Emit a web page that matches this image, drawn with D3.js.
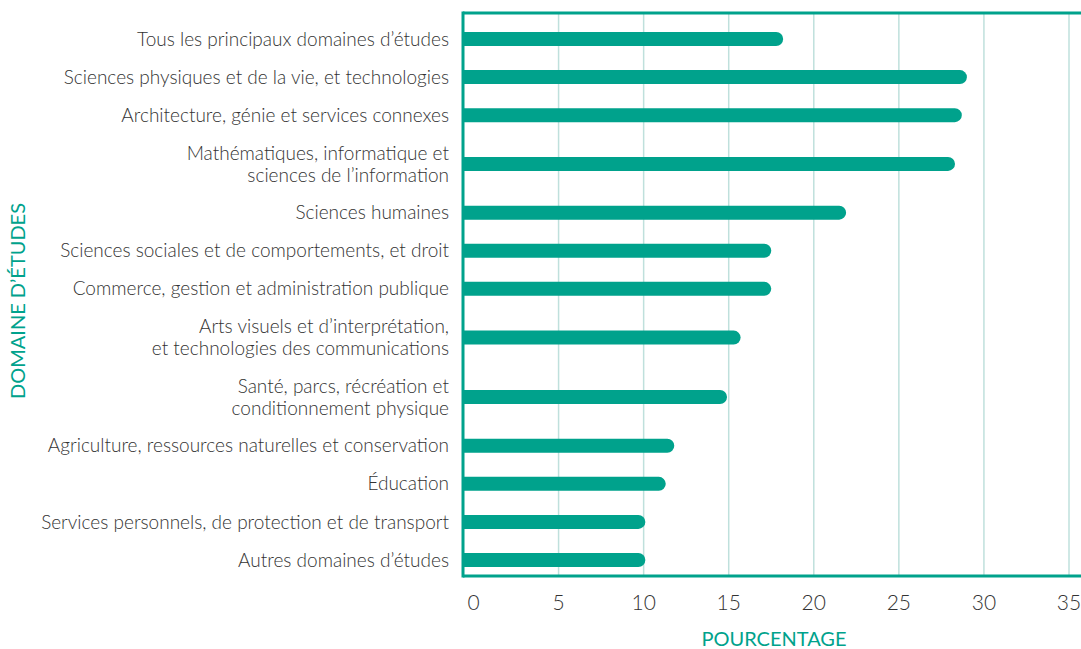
<!DOCTYPE html>
<html>
<head>
<meta charset="utf-8">
<script src="https://cdn.jsdelivr.net/npm/d3@7"></script>
<style>
  body { margin: 0; background: #fff; }
  text { font-family: Lato, "Open Sans", sans-serif; }
</style>
</head>
<body>
<div id="chart"></div>
<script>
// categories (each entry is the lines of its label)
const categories = [
    ["Tous les principaux domaines d’études"],
    ["Sciences physiques et de la vie, et technologies"],
    ["Architecture, génie et services connexes"],
    ["Mathématiques, informatique et", "sciences de l’information"],
    ["Sciences humaines"],
    ["Sciences sociales et de comportements, et droit"],
    ["Commerce, gestion et administration publique"],
    ["Arts visuels et d’interprétation,", "et technologies des communications"],
    ["Santé, parcs, récréation et", "conditionnement physique"],
    ["Agriculture, ressources naturelles et conservation"],
    ["Éducation"],
    ["Services personnels, de protection et de transport"],
    ["Autres domaines d’études"]
];
const values = [18.2, 29.0, 28.7, 28.3, 21.9, 17.5, 17.5, 15.7, 14.9, 11.8, 11.3, 10.1, 10.1];
const ticks = [0, 5, 10, 15, 20, 25, 30, 35];

const teal = "#00a28c";
const grid = "#bfe0dc";
const width = 1081, height = 649;

const svg = d3.select("#chart").append("svg")
    .attr("width", width)
    .attr("height", height);

// two-line labels get a bit more room
const weights = categories.map(c => c.length > 1 ? 1.56 : 1);
const centers = [];
let acc = 0;
weights.forEach(w => { centers.push(acc + w / 2); acc += w; });

const y = d3.scaleLinear()
    .domain([centers[0], centers[centers.length - 1]])
    .range([39, 560]);

const x = d3.scaleLinear()
    .domain([0, 35])
    .range([473.5, 1069]);

const axisX = 463, topY = 13, bottomY = 576;

// gridlines
svg.append("g").selectAll("line")
    .data(ticks.filter(t => t > 0))
    .enter().append("line")
    .attr("x1", d => x(d)).attr("x2", d => x(d))
    .attr("y1", topY).attr("y2", bottomY)
    .attr("stroke", grid)
    .attr("stroke-width", 1.5);

// bars: square left end, rounded right end
const barH = 14;
svg.append("g").selectAll("path")
    .data(values)
    .enter().append("path")
    .attr("fill", teal)
    .attr("d", (d, i) => {
        const x0 = axisX, x1 = x(d), yc = y(centers[i]), r = barH / 2;
        return `M${x0},${yc - r}H${x1 - r}A${r},${r} 0 0 1 ${x1 - r},${yc + r}H${x0}Z`;
    });

// frame lines
svg.append("line")
    .attr("x1", axisX).attr("x2", width)
    .attr("y1", topY).attr("y2", topY)
    .attr("stroke", teal).attr("stroke-width", 3);
svg.append("line")
    .attr("x1", axisX).attr("x2", width)
    .attr("y1", bottomY).attr("y2", bottomY)
    .attr("stroke", teal).attr("stroke-width", 3);
svg.append("line")
    .attr("x1", axisX).attr("x2", axisX)
    .attr("y1", topY - 1.5).attr("y2", bottomY + 1.5)
    .attr("stroke", teal).attr("stroke-width", 3);

// category labels
const labels = svg.append("g").selectAll("text")
    .data(categories)
    .enter().append("text")
    .attr("text-anchor", "end")
    .attr("font-size", "19px")
    .attr("font-weight", 300)
    .attr("fill", "#333");
labels.each(function(d, i) {
    const t = d3.select(this);
    const lineH = 22;
    const start = y(centers[i]) - (d.length - 1) * lineH / 2;
    d.forEach((line, j) => {
        t.append("tspan")
            .attr("x", 449)
            .attr("y", start + j * lineH)
            .attr("dy", "0.35em")
            .text(line);
    });
});

// tick labels
svg.append("g").selectAll("text")
    .data(ticks)
    .enter().append("text")
    .attr("x", d => x(d))
    .attr("y", 603)
    .attr("dy", "0.35em")
    .attr("text-anchor", "middle")
    .attr("font-size", "21px")
    .attr("font-weight", 300)
    .attr("fill", "#333")
    .text(d => d);

// axis titles
svg.append("text")
    .attr("x", 774)
    .attr("y", 639)
    .attr("dy", "0.35em")
    .attr("text-anchor", "middle")
    .attr("font-size", "20px")
    .attr("fill", teal)
    .text("POURCENTAGE");

svg.append("text")
    .attr("transform", "translate(18,301) rotate(-90)")
    .attr("dy", "0.35em")
    .attr("text-anchor", "middle")
    .attr("font-size", "20px")
    .attr("fill", teal)
    .text("DOMAINE D’ÉTUDES");
</script>
</body>
</html>
